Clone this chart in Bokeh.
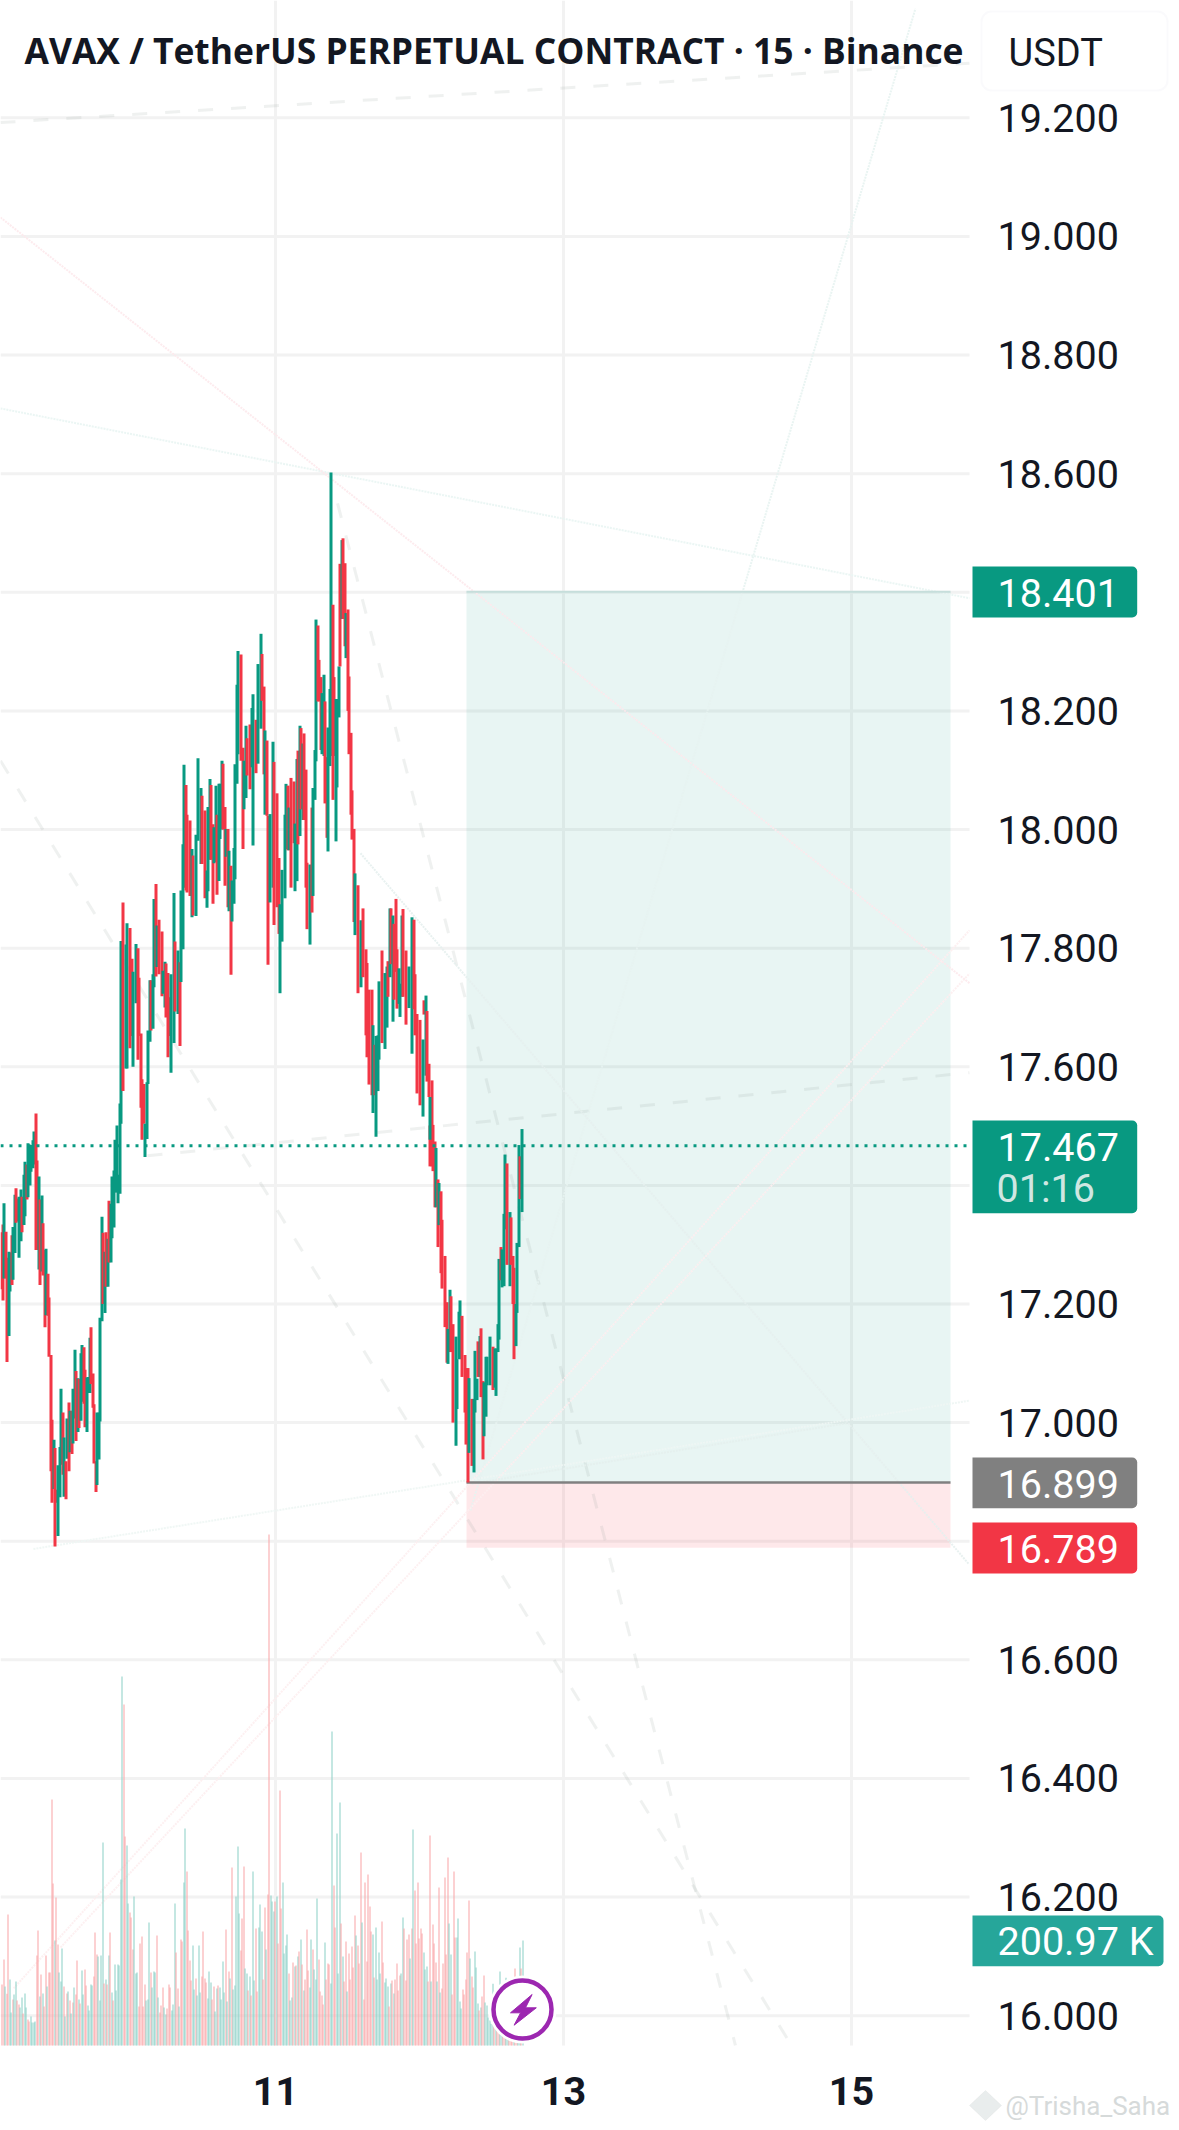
import math
from bokeh.plotting import figure
from bokeh.embed import file_html
from bokeh.resources import INLINE
from bokeh.models import (Range1d, FixedTicker, Label, BoxAnnotation, LinearAxis,
                          PolyAnnotation, PrintfTickFormatter)

# ---------- data ----------
TITLE = "AVAX / TetherUS PERPETUAL CONTRACT · 15 · Binance"
price_ticks = [16.0, 16.2, 16.4, 16.6, 16.8, 17.0, 17.2, 17.4, 17.6, 17.8,
               18.0, 18.2, 18.4, 18.6, 18.8, 19.0, 19.2]
covered_ticks = [16.8, 17.4, 18.4]
day_ticks = [11, 13, 15]

FIRST_DAY = 9.0949          # day of month of candle slot 0
SLOTS_PER_DAY = 96          # 15 minute candles

candle_slot = list(range(80)) + [
    80, 81, 83, 84, 86, 87, 88, 90, 91, 92,
    93, 94, 95, 96, 97, 98, 99, 100, 101, 102,
    103, 104, 105, 107, 108, 109, 110, 111, 112, 113,
    115, 116, 118, 119, 120, 121, 122, 123, 124, 126,
    127, 128, 130, 131, 133, 134, 136, 137, 138, 139,
    140, 141, 142, 143, 144, 145, 146, 147, 148, 149,
    150, 151, 152, 153, 154, 155, 156, 157, 158, 160,
    161, 162, 163, 164, 166, 167, 168, 170, 171, 173,
    174, 175, 176, 177, 178, 179, 181, 182, 184, 185,
    186, 187, 189, 190, 191, 192, 193, 195, 196, 197,
    198, 199, 200, 201, 202, 203, 204, 206, 207, 208,
    209, 210, 211, 212, 213, 214, 215, 216, 217, 218,
    219, 220, 221, 222, 223, 224, 225, 226, 227, 228,
    229, 230, 231, 232, 233, 234, 235, 236, 238, 240,
    241, 243, 244, 245, 247, 248, 249, 250, 251, 252,
    254, 256, 257, 258, 259, 260, 261, 262, 263, 264,
    265, 266, 267, 268, 270, 272, 274, 275, 276, 277,
    279, 281, 282, 283, 284, 285, 286, 287, 288, 289,
    286, 290, 291, 292, 293, 294, 296, 297, 298, 299,
    300, 301, 303, 304, 305, 306, 307, 309, 310, 311,
    312, 314, 315, 316, 317, 318, 319, 320, 321, 322,
    323, 324, 326, 328, 329, 330, 331, 332, 333, 334,
    335, 336, 337, 339, 340, 341, 342, 343, 344, 345,
    346, 347]

candle_side = ("rrgrrggrgg" "rrggrggrgg" "gggrrgrgrr" "grrrrgrrgg"
               "grgrgrgrgg" "rgrggrrggg" "rrrrggggrg" "rgrggggggg"
               "grggrrggrr" "rrrggggrgg" "rgrrggrrrg" "grgrgggrrr"
               "grgggrrggg" "rrggrgggrr" "grgrgggggr" "rggrrggrgg"
               "rrgrrggrrr" "ggggrgrrgg" "rgrgrrrgrg" "ggrrrggrrg"
               "ggrrgggrgr" "rgrrrrrgrg" "rrrrrgrggg" "rggrgrgrrr"
               "gggrrggrrr" "rgrgrrrrrr" "ggrgrrrrgg" "rrggggrrrr"
               "grgggrgrrg" "gggrggggrg" "ggrgrrrggg" "rg")

candle_high = [
    17.321, 17.334, 17.370, 17.322, 17.278, 17.288, 17.287, 17.316, 17.330, 17.384,
    17.395, 17.378, 17.381, 17.393, 17.381, 17.418, 17.440, 17.435, 17.471, 17.468,
    17.468, 17.476, 17.491, 17.521, 17.442, 17.415, 17.376, 17.383, 17.336, 17.291,
    17.293, 17.251, 17.211, 17.114, 17.005, 16.971, 16.957, 16.887, 16.928, 16.959,
    17.057, 17.017, 16.975, 16.935, 17.007, 17.034, 17.020, 17.020, 17.057, 17.123,
    17.087, 17.075, 17.074, 17.117, 17.131, 17.127, 17.089, 17.076, 17.077, 17.143,
    17.161, 17.083, 17.031, 16.935, 17.017, 17.017, 17.177, 17.347, 17.320, 17.288,
    17.321, 17.310, 17.374, 17.369, 17.415, 17.425, 17.477, 17.501, 17.418, 17.538,
    17.812, 17.877, 17.806, 17.842, 17.834, 17.782, 17.760, 17.807, 17.800, 17.750,
    17.656, 17.579, 17.571, 17.504, 17.574, 17.661, 17.746, 17.746, 17.756, 17.883,
    17.908, 17.838, 17.848, 17.828, 17.762, 17.777, 17.774, 17.758, 17.717, 17.756,
    17.893, 17.811, 17.796, 17.776, 17.897, 17.975, 18.109, 18.075, 18.025, 18.015,
    17.967, 17.956, 17.991, 18.120, 18.070, 18.057, 18.032, 17.931, 18.038, 18.085,
    18.075, 18.009, 18.004, 18.074, 18.025, 18.077, 18.077, 18.116, 18.111, 18.038,
    18.001, 18.001, 17.964, 17.939, 17.914, 17.969, 18.110, 18.244, 18.301, 18.295,
    18.138, 18.116, 18.175, 18.154, 18.177, 18.205, 18.228, 18.185, 18.279, 18.330,
    18.296, 18.241, 18.167, 18.150, 18.023, 18.026, 18.148, 18.114, 18.061, 17.952,
    17.874, 17.932, 18.025, 18.077, 18.074, 18.037, 18.087, 18.081, 18.010, 18.119,
    18.133, 18.175, 18.171, 18.145, 18.162, 18.101, 17.944, 17.941, 18.037, 18.070,
    18.134, 18.354, 18.344, 18.286, 18.257, 18.230, 18.261, 18.216, 18.122, 18.172,
    18.237, 18.602, 18.379, 18.257, 18.220, 18.220, 18.275, 18.448, 18.488, 18.491,
    18.449, 18.365, 18.371, 18.258, 18.163, 18.066, 18.001, 17.926, 17.906, 17.847,
    17.867, 17.798, 17.775, 17.730, 17.730, 17.670, 17.637, 17.652, 17.653, 17.744,
    17.796, 17.758, 17.769, 17.778, 17.867, 17.867, 17.855, 17.841, 17.883, 17.798,
    17.766, 17.740, 17.855, 17.866, 17.796, 17.769, 17.852, 17.848, 17.756, 17.689,
    17.679, 17.646, 17.712, 17.720, 17.694, 17.605, 17.501, 17.577, 17.502, 17.474,
    17.549, 17.463, 17.410, 17.404, 17.390, 17.342, 17.281, 17.203, 17.158, 17.224,
    17.213, 17.166, 17.145, 17.107, 17.187, 17.206, 17.180, 17.114, 17.092, 17.092,
    17.075, 17.040, 17.040, 17.121, 17.074, 17.137, 17.146, 17.159, 17.070, 17.068,
    17.111, 17.111, 17.145, 17.128, 17.125, 17.125, 17.166, 17.276, 17.296, 17.292,
    17.352, 17.452, 17.437, 17.355, 17.346, 17.281, 17.261, 17.200, 17.303, 17.468,
    17.449, 17.495]

candle_low = [
    17.225, 17.206, 17.243, 17.243, 17.102, 17.146, 17.221, 17.232, 17.241, 17.286,
    17.337, 17.339, 17.278, 17.306, 17.321, 17.333, 17.348, 17.376, 17.380, 17.400,
    17.423, 17.429, 17.435, 17.291, 17.291, 17.258, 17.232, 17.255, 17.248, 17.161,
    17.181, 17.180, 17.111, 16.918, 16.865, 16.888, 16.791, 16.865, 16.809, 16.874,
    16.929, 16.912, 16.875, 16.871, 16.939, 16.918, 16.950, 16.947, 16.965, 17.007,
    16.969, 16.984, 16.991, 17.003, 17.035, 17.032, 16.992, 16.984, 17.050, 17.050,
    17.065, 17.025, 16.931, 16.883, 16.895, 16.938, 17.002, 17.171, 17.200, 17.185,
    17.229, 17.229, 17.270, 17.270, 17.311, 17.329, 17.388, 17.388, 17.370, 17.386,
    17.504, 17.559, 17.597, 17.597, 17.631, 17.652, 17.600, 17.707, 17.612, 17.652,
    17.531, 17.477, 17.504, 17.448, 17.478, 17.571, 17.642, 17.661, 17.664, 17.734,
    17.752, 17.768, 17.756, 17.719, 17.723, 17.700, 17.683, 17.616, 17.652, 17.590,
    17.640, 17.693, 17.689, 17.635, 17.743, 17.798, 17.902, 17.897, 17.894, 17.888,
    17.852, 17.855, 17.854, 17.981, 17.942, 17.942, 17.884, 17.868, 17.896, 17.949,
    17.949, 17.875, 17.943, 17.945, 17.890, 17.913, 17.984, 18.000, 18.000, 17.905,
    17.954, 17.869, 17.862, 17.755, 17.845, 17.875, 17.916, 18.077, 18.127, 18.116,
    17.967, 18.034, 18.053, 18.091, 18.068, 18.105, 17.973, 18.095, 18.111, 18.170,
    18.217, 18.093, 18.025, 18.023, 17.772, 17.877, 17.902, 17.839, 17.869, 17.824,
    17.724, 17.811, 17.884, 17.967, 17.965, 17.965, 17.902, 17.977, 17.896, 17.913,
    17.975, 17.989, 18.034, 18.016, 18.016, 17.902, 17.832, 17.806, 17.860, 17.888,
    18.050, 18.115, 18.216, 18.216, 18.134, 18.127, 18.124, 18.044, 17.986, 17.963,
    18.107, 18.124, 18.050, 18.124, 17.980, 18.071, 18.189, 18.275, 18.355, 18.355,
    18.309, 18.289, 18.200, 18.127, 18.025, 17.983, 17.844, 17.822, 17.724, 17.734,
    17.751, 17.653, 17.616, 17.570, 17.552, 17.522, 17.552, 17.482, 17.559, 17.612,
    17.640, 17.630, 17.666, 17.718, 17.751, 17.773, 17.676, 17.713, 17.760, 17.698,
    17.706, 17.684, 17.718, 17.718, 17.671, 17.699, 17.622, 17.697, 17.653, 17.555,
    17.535, 17.516, 17.688, 17.585, 17.575, 17.549, 17.432, 17.432, 17.424, 17.363,
    17.477, 17.363, 17.296, 17.333, 17.252, 17.226, 17.161, 17.101, 17.099, 17.119,
    17.119, 17.000, 16.961, 17.023, 17.107, 17.107, 17.077, 17.017, 16.963, 16.899,
    16.949, 16.927, 16.916, 17.017, 17.038, 17.077, 17.077, 17.043, 16.938, 16.977,
    17.010, 17.063, 17.063, 17.055, 17.059, 17.045, 17.119, 17.140, 17.240, 17.228,
    17.230, 17.326, 17.266, 17.230, 17.266, 17.200, 17.107, 17.129, 17.185, 17.296,
    17.377, 17.355]

# volume lots per candle slot, + for rising candles, - for falling ones (1 lot = 0.638 K)
LOT_K = 0.638
signed_lots = [
    -183, -258, 177, -155, -393, 198, 99, -138, 153, 192, -135, -123, 114, 144, -96,
    156, 114, -78, -72, 87, 69, 69, 72, -270, -345, 147, -213, 156, -117, -270,
    177, -219, -219, -738, -486, 315, -444, -303, 219, 192, 291, -177, 87, -156, 162,
    -135, 96, -129, 174, -153, -255, 138, -126, 225, 153, -228, -180, 120, 105, 183,
    180, -207, -339, -273, 267, 135, 270, 609, -186, 198, -183, 270, -339, 159, -135,
    243, 165, 243, 240, 498, 1107, -1023, -627, 600, 426, -399, -384, -288, 447, 216,
    219, -117, -306, -327, -117, -183, 135, 138, 369, -219, 174, 222, 219, -330, 144,
    -99, -120, -174, 114, 93, -111, -183, -174, 105, 123, 426, -279, -171, 117, -318,
    -312, 489, 651, -522, -345, -255, -195, 300, 168, -201, 150, 300, 159, -207, -342,
    -201, -189, 141, 222, 189, -138, -177, 102, 171, -180, 174, 138, 252, 159, -348,
    132, -222, 201, -534, 168, 180, 447, 597, 396, -285, -381, -537, 231, 216, -165,
    207, -150, 522, 195, -351, -162, 354, 423, 342, -198, -414, 288, -453, -1533,
    450, 432, 402, -432, 447, -306, -765, -411, 489, 276, 300, 333, -216, 135, 144,
    -249, 237, -240, 267, -282, 318, -243, 165, -198, -348, -225, 174, 318, -288, 228,
    198, 441, -258, -162, -150, -123, 309, -198, -246, -243, 186, 942, -480, -354, 636,
    216, 729, -366, 267, -192, -312, 162, -276, -198, -297, -234, -390, 330, -300, -246,
    -579, 369, -138, -489, -252, -513, -417, -342, 333, -204, 354, 198, 279, 216, -372,
    -249, 189, 201, 177, -117, 186, -195, 156, -198, -246, -165, -210, 216, 384, -351,
    -195, -318, -333, 261, -351, 648, -465, -306, -489, -321, -351, -336, 279, 228, 237,
    -192, -630, 192, -363, -306, -249, 192, -474, 159, -171, -246, -504, -273, -564, 366,
    273, -153, -522, -324, 324, 381, 132, 111, -168, -153, -198, -279, -435, 261, -207,
    -174, 282, 234, 126, -105, 114, -147, -210, 129, 120, 84, 75, 65, 185, -155,
    115, -115, -90, 222, 85, -85, -75, 203, 75, -65, -65, -65, 60, -231, -65, 115, 294,
    -231, 315]

entry_price = 16.899
target_price = 18.401
stop_price = 16.789
last_price = 17.467
position_start = 12.3264
position_end = 15.6875

# faint drawings on the chart: day / price of the two ends
dash_x0 = [11.431, 9.090, 10.111, 9.090]
dash_p0 = [18.550, 18.116, 17.450, 19.192]
dash_x1 = [14.194, 14.583, 15.819, 15.819]
dash_p1 = [15.950, 15.950, 17.590, 19.292]
dot_x0 = [9.090, 9.090, 12.354, 11.590, 9.181, 9.507, 9.319, 12.361]
dot_p0 = [18.710, 19.032, 16.852, 17.960, 16.046, 16.115, 16.787, 16.897]
dot_x1 = [15.819, 15.819, 15.444, 15.813, 15.819, 15.819, 15.819, 14.965]
dot_p1 = [18.390, 17.741, 19.384, 16.762, 17.830, 17.757, 17.037, 16.999]
dot_colors = ["#e9f5f3", "#fde9ec", "#e7f3f1", "#e6efee", "#fdeef0", "#fdeef0", "#eef6f4", "#e4efed"]

assert len(candle_slot) == len(candle_side) == len(candle_high) == len(candle_low)

# ---------- layout ----------
UP, DOWN = "#089981", "#F23645"
INK = "#131722"
PX_PER_DAY = 144.0
PX_PER_PRICE = 593.1
BAR_W = 3 / PX_PER_DAY
VOL_W = 1 / PX_PER_DAY
PX_PER_K = 1 / 1.914
RIGHT, BASE, W, H = 969, 2045, 1179, 2130


def day_of(px):
    return 11 + (px - 275) / PX_PER_DAY


def price_of(py):
    return 19.2 - (py - 117.3) / PX_PER_PRICE


def slot_px(slot):
    return 0.67 + 1.5 * slot


p = figure(width=W, height=H, output_backend="svg", toolbar_location=None,
           x_range=Range1d(day_of(0), day_of(W)),
           y_range=Range1d(price_of(H), price_of(0)),
           y_axis_location=None, x_axis_location=None,
           min_border_left=0, min_border_top=0, min_border_right=0, min_border_bottom=0,
           background_fill_color="white", border_fill_color="white")
p.outline_line_color = None
p.xgrid.visible = False
p.ygrid.visible = False

# grid lines stop at the price and time scales
GRID = dict(line_color="#F2F2F2", line_width=3)
p.segment(x0=[day_of(0)] * len(price_ticks), x1=[day_of(RIGHT)] * len(price_ticks),
          y0=price_ticks, y1=price_ticks, **GRID)
p.segment(x0=day_ticks, x1=day_ticks, y0=[price_of(BASE)] * len(day_ticks),
          y1=[price_of(0)] * len(day_ticks), **GRID)

y_axis = LinearAxis(fixed_location=day_of(RIGHT))
x_axis = LinearAxis(fixed_location=price_of(BASE))
for axis, ticks in ((y_axis, price_ticks), (x_axis, day_ticks)):
    axis.ticker = FixedTicker(ticks=ticks)
    axis.axis_line_color = None
    axis.major_tick_line_color = None
    axis.minor_tick_line_color = None
    axis.major_tick_out = 0
    axis.major_tick_in = 0
    axis.major_label_text_font = "Roboto"
    axis.major_label_text_font_size = "39.5px"
    axis.major_label_text_color = INK
y_axis.major_label_standoff = 28
y_axis.formatter = PrintfTickFormatter(format="%.3f")
y_axis.major_label_overrides = {t: "" for t in covered_ticks}
x_axis.major_label_standoff = 31
x_axis.major_label_text_font_style = "bold"
p.add_layout(y_axis, "right")
p.add_layout(x_axis, "below")

# position tool
p.quad(left=[position_start], right=[position_end], top=[target_price], bottom=[entry_price],
       fill_color=UP, fill_alpha=0.095, line_color=None)
p.quad(left=[position_start], right=[position_end], top=[entry_price], bottom=[stop_price],
       fill_color=DOWN, fill_alpha=0.115, line_color=None)

# faint trend lines
p.segment(x0=dash_x0, y0=dash_p0, x1=dash_x1, y1=dash_p1, line_color="#9aa5a3", line_alpha=0.16,
          line_width=3, line_dash="15 18")
p.segment(x0=dot_x0, y0=dot_p0, x1=dot_x1, y1=dot_p1, line_color=dot_colors, line_alpha=0.9,
          line_width=2, line_dash="2 1")

p.segment(x0=[position_start], y0=[target_price], x1=[position_end], y1=[target_price],
          line_color="#C6DEDB", line_width=2)
p.segment(x0=[position_start], y0=[entry_price], x1=[position_end], y1=[entry_price],
          line_color="#808080", line_width=2.5)

# volume (bars snapped to whole device pixels), scale zero sits on the time axis
p.extra_y_ranges = {"vol": Range1d(-(H - BASE) / PX_PER_K, BASE / PX_PER_K)}
vol_x = [day_of(math.floor(slot_px(i)) + 1.5) for i in range(len(signed_lots))]
vol_k = [abs(v) * LOT_K for v in signed_lots]
vol_c = ["#89D0C5" if v > 0 else "#F9A3A6" for v in signed_lots]
p.vbar(x=vol_x, top=vol_k, bottom=0, width=VOL_W, fill_color=vol_c, line_color=None, y_range_name="vol")

# candles (bars snapped to whole device pixels)
cx = [day_of(round(slot_px(s) - 1.5) + 1.5) for s in candle_slot]
cc = [UP if s == "g" else DOWN for s in candle_side]
p.vbar(x=cx, top=candle_high, bottom=candle_low, width=BAR_W, fill_color=cc, line_color=None)

# last price line
p.segment(x0=[day_of(0)], y0=[last_price], x1=[day_of(RIGHT)], y1=[last_price],
          line_color=UP, line_width=3, line_dash="3 6")

# lightning badge
bx, by = 522, 2009
p.scatter(x=[day_of(bx)], y=[price_of(by)], size=68, marker="circle", fill_color="white", line_color=None)
p.scatter(x=[day_of(bx)], y=[price_of(by)], size=58, marker="circle", fill_color="white",
          line_color="#9C27B0", line_width=4.5)
bolt = [(9.6, -15), (3, -1.7), (13.8, -1.7), (-8.4, 15.7), (-1.9, 3.3), (-12, 3.3)]
p.patch(x=[day_of(bx + a) for a, b in bolt], y=[price_of(by + b) for a, b in bolt],
        fill_color="#9C27B0", line_color="#9C27B0", line_width=1)


def tag(y0, y1, color, x1=1136.7):
    p.add_layout(BoxAnnotation(left=day_of(972), right=day_of(x1), top=price_of(y0), bottom=price_of(y1),
                               fill_color=color, fill_alpha=1, line_color=None,
                               border_radius=(0, 5, 5, 0), level="annotation"))


def label(text, x, y, color, size="39.5px", font="Roboto", style="normal"):
    p.add_layout(Label(x=day_of(x), y=price_of(y), text=text,
                       text_color=color, text_font=font, text_font_size=size,
                       text_font_style=style, text_baseline="middle", text_align="left",
                       level="annotation"))


tag(566, 617, UP)
label("18.401", 997, 592, "white")
tag(1120, 1212.7, UP)
label("17.467", 997, 1146, "white")
label("01:16", 996, 1188, "#CFE7E2")
tag(1457, 1507.7, "#808080")
label("16.899", 997, 1483, "white")
tag(1522, 1573, DOWN)
label("16.789", 997, 1548, "white")
tag(1915, 1965.7, "#26A69A", x1=1163)
label("200.97 K", 997, 1941, "white")

# title and unit box
label(TITLE, 24, 49, INK, size="35.4px", font="Open Sans", style="bold")
p.add_layout(BoxAnnotation(left=day_of(981), right=day_of(1167), top=price_of(11), bottom=price_of(90),
                           fill_color="white", fill_alpha=1, line_color="#EDF0F5", line_width=2,
                           border_radius=10, level="annotation"))
label("USDT", 1008, 52, INK, size="38px")

# watermark
label("@Trisha_Saha", 1005, 2105, "#D6DADA", size="26px")
p.add_layout(PolyAnnotation(xs=[day_of(985), day_of(1001), day_of(985), day_of(969)],
                            ys=[price_of(2090), price_of(2105), price_of(2120), price_of(2105)],
                            fill_color="#E4E8E8", fill_alpha=0.8,
                            line_color="#D6DADA", level="annotation"))

open("out.html", "w").write(file_html(p, INLINE))
